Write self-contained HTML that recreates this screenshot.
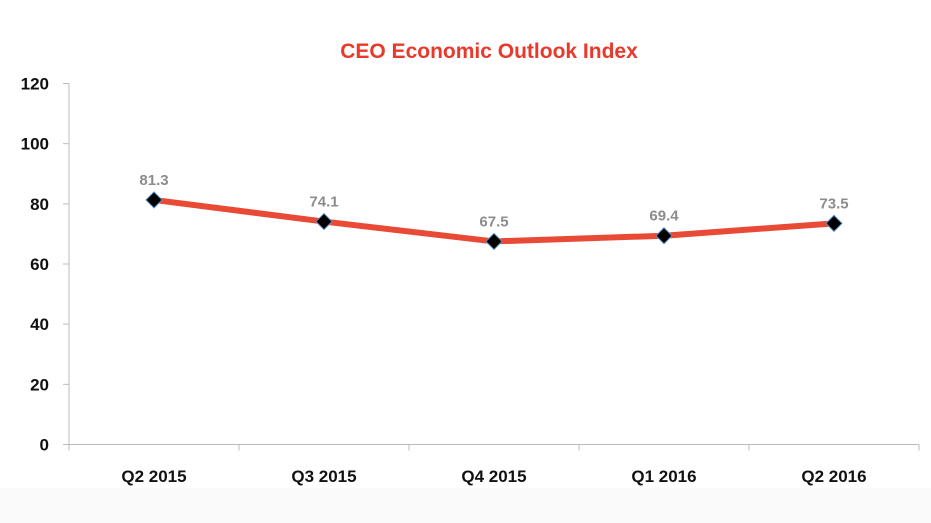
<!DOCTYPE html>
<html><head><meta charset="utf-8"><style>
html,body{margin:0;padding:0;background:#fff;}
svg{display:block;font-family:"Liberation Sans",Arial,sans-serif;}
</style></head><body>
<svg id="chart" width="931" height="523">
<rect x="0" y="488" width="931" height="35" fill="#fafafa"/>
<text x="489" y="58" text-anchor="middle" font-size="21" font-weight="bold" fill="#e8392b">CEO Economic Outlook Index</text>
</svg>
<script>
const categories=["Q2 2015","Q3 2015","Q4 2015","Q1 2016","Q2 2016"];
const values=[81.3,74.1,67.5,69.4,73.5];
const yTicks=[0,20,40,60,80,100,120];
const svg=document.getElementById('chart');
const NS='http://www.w3.org/2000/svg';
const x0=69,band=170,y0=444.5,yTop=83.5,yMax=120;
function yS(v){return y0-(v/yMax)*(y0-yTop);}
function xS(i){return x0+band*(i+0.5);}
function mk(tag,attrs,txt){const e=document.createElementNS(NS,tag);for(const k in attrs)e.setAttribute(k,attrs[k]);if(txt!==undefined)e.textContent=txt;svg.appendChild(e);return e;}
let e=mk('line',{x1:x0,y1:yTop,x2:x0,y2:y0,stroke:'#bbb','stroke-width':1});


e=mk('line',{x1:x0,y1:y0,x2:x0+band*categories.length,y2:y0,stroke:'#bbb','stroke-width':1});


yTicks.forEach(t=>{
 const y=yS(t);
 let l=mk('line',{x1:x0-6,y1:y,x2:x0,y2:y,stroke:'#bbb'});
 
 
 let tx=mk('text',{x:49,y:y+6,'text-anchor':'end','font-size':17,'font-weight':'bold',fill:'#111'},t);
 
 
});
for(let i=0;i<=categories.length;i++){
 let l=mk('line',{x1:x0+band*i,y1:y0,x2:x0+band*i,y2:y0+6,stroke:'#bbb'});
 
 
}
categories.forEach((c,i)=>{
 let tx=mk('text',{x:xS(i),y:482,'text-anchor':'middle','font-size':17,'font-weight':'bold',fill:'#111'},c);
 
 
});
const pts=values.map((v,i)=>xS(i)+','+yS(v)).join(' ');
let pl=mk('polyline',{points:pts,fill:'none',stroke:'#e84a35','stroke-width':6,'stroke-linejoin':'round'});


values.forEach((v,i)=>{
 const cx=xS(i),cy=yS(v),s=8;
 let p=mk('polygon',{points:`${cx},${cy-s} ${cx+s},${cy} ${cx},${cy+s} ${cx-s},${cy}`,fill:'#000',stroke:'#5b8fc7','stroke-width':1});
 
 
 let tx=mk('text',{x:cx,y:cy-15,'text-anchor':'middle','font-size':15,'font-weight':'bold',fill:'#8c8c8c'},v.toFixed(1));
 
 
});
</script>
</body></html>
